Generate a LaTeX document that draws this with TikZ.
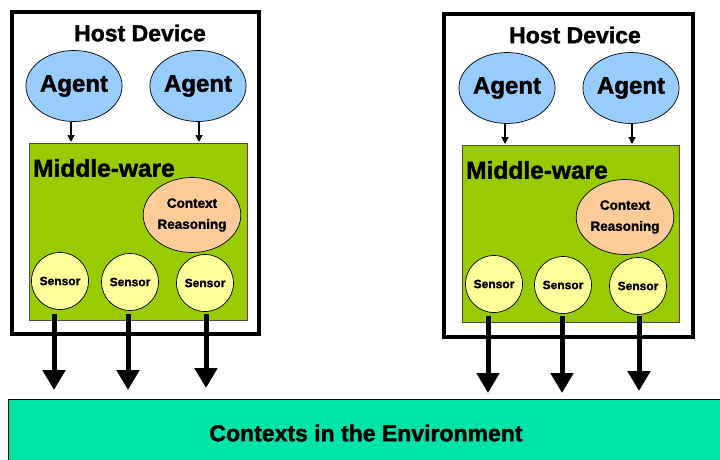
\documentclass[tikz,border=0pt]{standalone}
\usepackage{fontspec}
\setmainfont{Liberation Sans}
\newfontfamily\heavy[FakeBold=1.6]{Liberation Sans Bold}
\usetikzlibrary{arrows.meta,shapes.geometric}
\definecolor{agentblue}{HTML}{99CCFF}
\definecolor{mwgreen}{HTML}{99CC00}
\definecolor{peach}{HTML}{FFCC99}
\definecolor{sensory}{HTML}{FFFF99}
\definecolor{envgreen}{HTML}{00E3A9}
\tikzset{
  hostbox/.style={draw=black,line width=3.5pt,fill=white},
  mwbox/.style={draw=black!70,line width=0.6pt,fill=mwgreen},
  agent/.style={ellipse,draw=black,line width=0.7pt,fill=agentblue,minimum width=95pt,minimum height=71pt,inner sep=0pt,font=\heavy\fontsize{24}{26}\selectfont},
  reason/.style={ellipse,draw=black,line width=0.7pt,fill=peach,minimum width=97pt,minimum height=75pt,inner sep=0pt,align=center,font=\heavy\fontsize{13.5}{21}\selectfont},
  sensor/.style={circle,draw=black,line width=0.7pt,fill=sensory,minimum size=57pt,inner sep=0pt,font=\heavy\fontsize{12}{13}\selectfont},
  title/.style={font=\heavy\fontsize{23}{25}\selectfont,inner sep=0pt},
  mwtitle/.style={font=\heavy\fontsize{24.5}{26}\selectfont,inner sep=0pt,anchor=west},
  agentarrow/.style={line width=1.3pt,-{Triangle[width=7pt,length=7pt]}},
  bigarrow/.style={line width=5pt,-{Triangle[width=22pt,length=20pt]}},
}
\begin{document}
\begin{tikzpicture}[x=1pt,y=-1pt]
\useasboundingbox (0,0) rectangle (720,460);
\clip (0,0) rectangle (720,460);
\fill[white] (0,0) rectangle (720,460);
% environment
\node[draw=black,line width=1pt,fill=envgreen,minimum width=730pt,minimum height=80pt,anchor=north west,inner sep=0pt] (env) at (8,399) {};
\node[title] (envlabel) at (366,433) {Contexts in the Environment};
% ---------- left host ----------
\draw[hostbox] (12,12) rectangle (259,334);
\node[title] (hostL) at (140,33) {Host Device};
\draw[mwbox] (29,143) rectangle (247,320);
\node[mwtitle] (mwL) at (33,168) {Middle-ware};
\node[agent] (aL1) at (74,86) {Agent};
\node[agent] (aL2) at (198,86) {Agent};
\node[reason] (rL) at (192,215) {Context\\Reasoning};
\node[sensor] (sL1) at (60,281) {Sensor};
\node[sensor] (sL2) at (130,282) {Sensor};
\node[sensor] (sL3) at (205,283) {Sensor};
\coordinate (mL1) at (71,142);
\coordinate (mL2) at (199,142);
\draw[agentarrow] (aL1.south -| mL1) -- (mL1);
\draw[agentarrow] (aL2.south -| mL2) -- (mL2);
\coordinate (eL1) at (54,390);
\coordinate (eL2) at (128,390);
\coordinate (eL3) at (206,388);
\draw[bigarrow] (54,314) -- (eL1);
\draw[bigarrow] (128,314) -- (eL2);
\draw[bigarrow] (206,314) -- (eL3);
% ---------- right host ----------
\draw[hostbox] (444,14) rectangle (693,337);
\node[title] (hostR) at (575,35) {Host Device};
\draw[mwbox] (462,145) rectangle (679,322);
\node[mwtitle] (mwR) at (466,170) {Middle-ware};
\node[agent] (aR1) at (507,88) {Agent};
\node[agent] (aR2) at (631,88) {Agent};
\node[reason] (rR) at (625,217) {Context\\Reasoning};
\node[sensor] (sR1) at (494,284) {Sensor};
\node[sensor] (sR2) at (563,285) {Sensor};
\node[sensor] (sR3) at (638,286) {Sensor};
\coordinate (mR1) at (505,144);
\coordinate (mR2) at (632,144);
\draw[agentarrow] (aR1.south -| mR1) -- (mR1);
\draw[agentarrow] (aR2.south -| mR2) -- (mR2);
\coordinate (eR1) at (488,393);
\coordinate (eR2) at (562,393);
\coordinate (eR3) at (639,391);
\draw[bigarrow] (488,316) -- (eR1);
\draw[bigarrow] (562,316) -- (eR2);
\draw[bigarrow] (639,316) -- (eR3);
\end{tikzpicture}
\end{document}
